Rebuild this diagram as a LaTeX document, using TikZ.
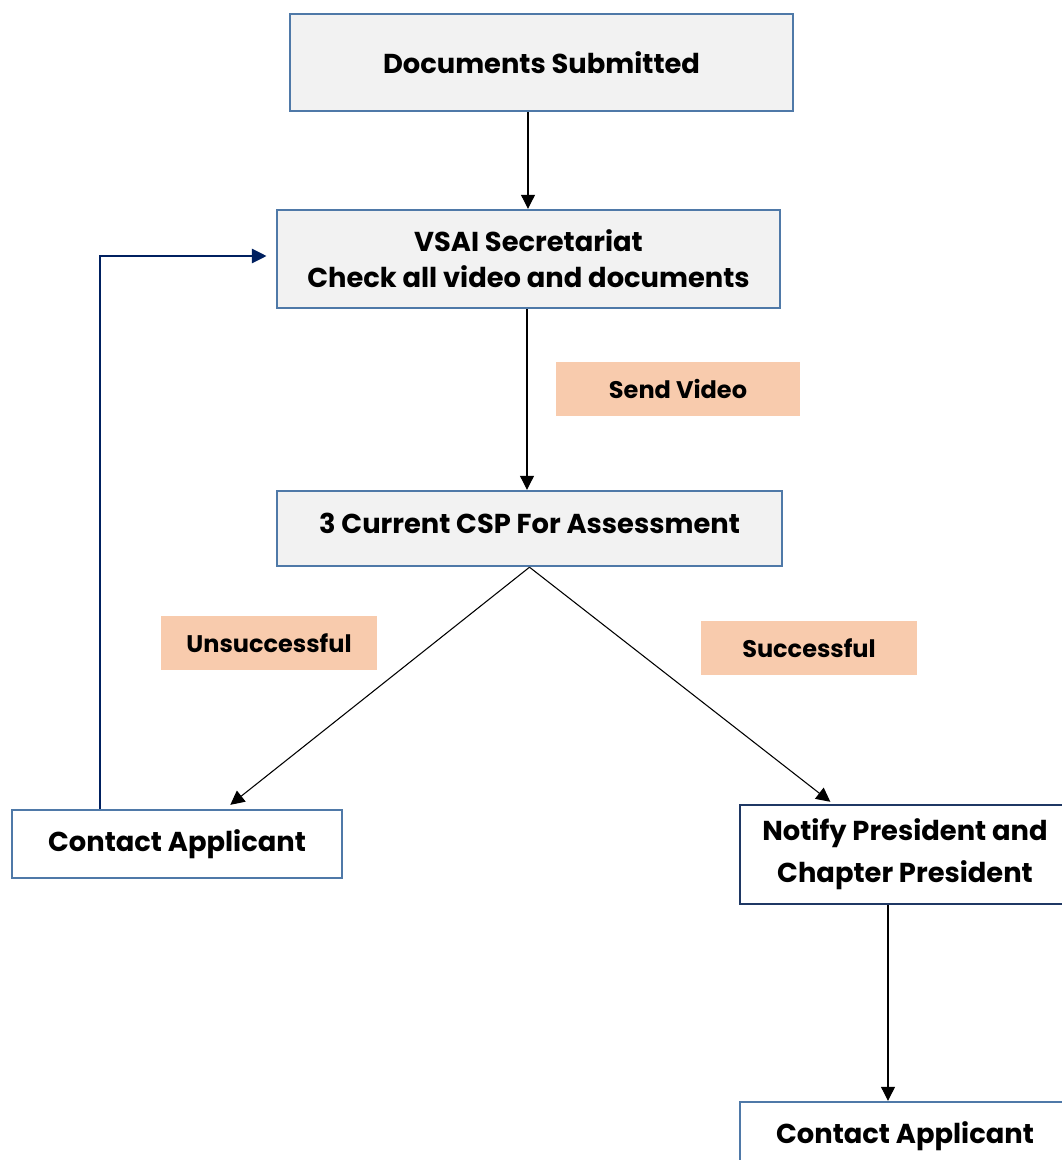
\documentclass[tikz,border=0pt]{standalone}
\usepackage{fontspec}
\setmainfont{Poppins}
\usetikzlibrary{arrows.meta,calc}
\definecolor{boxfill}{HTML}{F2F2F2}
\definecolor{boxline}{HTML}{4F79A8}
\definecolor{navyline}{HTML}{1F3864}
\definecolor{loopline}{HTML}{002060}
\definecolor{tagfill}{HTML}{F8CBAD}
\tikzset{
  x=0.75pt, y=-0.75pt,
  graybox/.style={draw=boxline, line width=1.8pt, fill=boxfill, inner sep=0pt, align=center,
                  font=\bfseries\fontsize{20.5}{27}\selectfont},
  whitebox/.style={draw=boxline, line width=1.8pt, fill=white, inner sep=0pt, align=center,
                  font=\bfseries\fontsize{20.5}{31.5}\selectfont},
  tag/.style={fill=tagfill, inner sep=0pt, minimum width=162pt, minimum height=40.5pt,
              font=\bfseries\fontsize{18}{20}\selectfont},
  flow/.style={draw=black, line width=0.8pt, -{Triangle[length=10.5pt,width=10.5pt]}},
}
\begin{document}
\begin{tikzpicture}
\useasboundingbox (0,0) rectangle (1062,1160);
\clip (0,0) rectangle (1062,1160);

% process boxes
\node[graybox, minimum width=377.25pt, minimum height=72.75pt] (sub) at (541.5,62.5) {Documents Submitted};
\node[graybox, minimum width=377.25pt, minimum height=73.5pt] (sec) at (528.5,259) {VSAI Secretariat\\Check all video and documents};
\node[graybox, minimum width=378.75pt, minimum height=56.25pt] (csp) at (529.5,528.5) {\raisebox{3.75pt}[\height][\depth]{3 Current CSP For Assessment}};
\node[whitebox, minimum width=247.5pt, minimum height=51pt] (cal) at (177,844) {Contact Applicant};
\node[whitebox, draw=navyline, minimum width=247.5pt, minimum height=74.25pt] (ntf) at (905,854.5) {Notify President and\\Chapter President};
\node[whitebox, minimum width=247.5pt, minimum height=51pt] (car) at (905,1136) {Contact Applicant};

% outcome tags
\node[tag, minimum width=183pt] (send) at (678,389) {Send Video};
\node[tag] (fail) at (269,643) {Unsuccessful};
\node[tag] (pass) at (809,648) {Successful};

% connectors
\draw[flow] (sub.south -| 528,0) -- (sec.north -| 528,0);
\draw[flow] (sec.south -| 527,0) -- (csp.north -| 527,0);
\draw[flow] (csp.south) -- ([xshift=40pt,yshift=3pt]cal.north);
\draw[flow] (csp.south) -- ([xshift=-56pt,yshift=1.5pt]ntf.north);
\draw[flow] (ntf.south -| 888,0) -- (car.north -| 888,0);
\draw[draw=loopline, line width=0.8pt, -{Triangle[length=11pt,width=11pt,fill=loopline]}]
  ([xshift=-57.75pt]cal.north) |- ([xshift=-7pt,yshift=2.25pt]sec.west);
\end{tikzpicture}
\end{document}
